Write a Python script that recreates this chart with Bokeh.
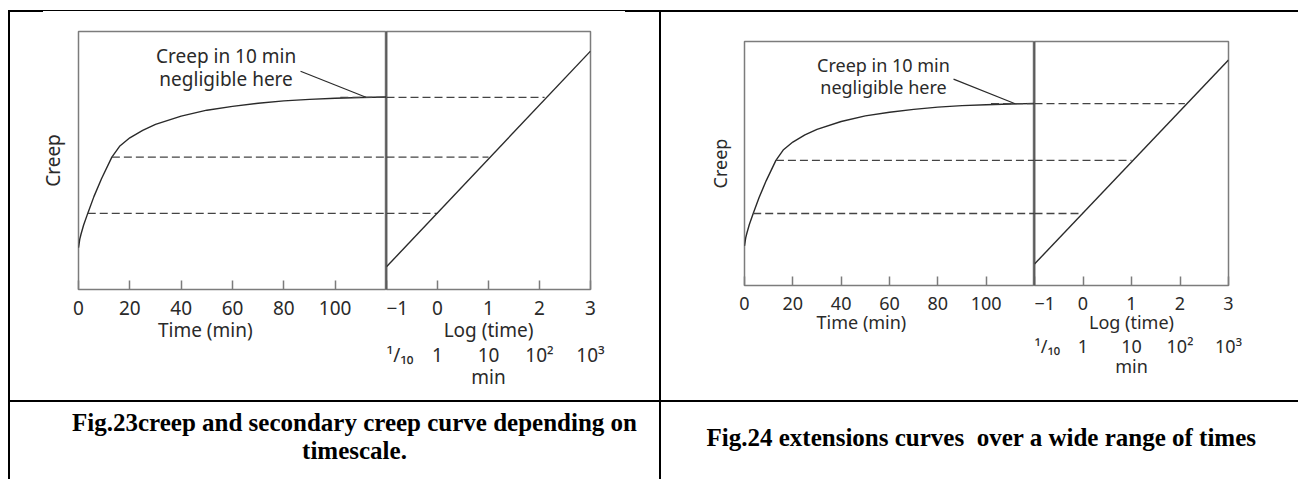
from bokeh.plotting import figure
from bokeh.models import Range1d, FixedTicker, LinearAxis, Spacer, Span
from bokeh.layouts import row, column
from bokeh.core.properties import value
from bokeh.embed import file_html
from bokeh.resources import INLINE

# ---------------- data ----------------
time_min = [0, 0.5, 1, 2, 3.6, 6, 9, 13, 16, 20, 25, 30, 40, 50, 60, 70, 80, 90, 100, 110, 120]
creep_curve = [0.162, 0.195, 0.215, 0.25, 0.295, 0.36, 0.43, 0.513, 0.555, 0.588, 0.617, 0.64,
               0.672, 0.695, 0.71, 0.722, 0.731, 0.737, 0.741, 0.744, 0.746]
log_time = [-1, 3]
creep_log = [0.088, 0.924]
dash_levels = [0.295, 0.513, 0.745]
dash_start_time = [3.6, 13, 102]
dash_end_log = [0.0, 1.0, 2.1]
time_ticks = [0, 20, 40, 60, 80, 100]
log_ticks = [-1, 0, 1, 2, 3]
log_tick_labels = ["\u22121", "0", "1", "2", "3"]
minute_labels = ["\u00b9/\u2081\u2080", "1", "10", "10\u00b2", "10\u00b3"]
note_lines = ["Creep in 10 min", "negligible here"]
note_time = [57.5, 57.5]
note_creep = [0.905, 0.815]
leader_time = [86.5, 112.0]
leader_creep = [0.846, 0.745]
caption1 = ["Fig.23creep and secondary creep curve depending on", "timescale."]
caption2 = ["Fig.24 extensions curves \u00a0over a wide range of times"]

FONT = "Noto Sans"
FRAME = "#7c7c7c"
INK = "#2a2a2a"


def style_axis(ax, fs, tick_standoff, label_standoff):
    ax.minor_tick_line_color = None
    ax.axis_line_color = None
    ax.major_tick_in = 9
    ax.major_tick_out = 0
    ax.major_tick_line_color = FRAME
    ax.major_tick_line_width = 1.5
    ax.major_label_text_font = FONT
    ax.major_label_text_font_size = f"{fs}px"
    ax.major_label_text_color = INK
    ax.major_label_standoff = tick_standoff
    ax.axis_label_text_font = FONT
    ax.axis_label_text_font_size = f"{fs}px"
    ax.axis_label_text_font_style = "normal"
    ax.axis_label_text_color = INK
    ax.axis_label_standoff = label_standoff


def chart(fs, lb, tw, lw, rb, tb, fh, bb, creep_standoff, tick_standoff, label_standoff,
          min_standoff, min_label_standoff, pad):
    yr = Range1d(0, 1)
    h = tb + fh + bb
    common = dict(output_backend="svg", toolbar_location=None, y_range=yr,
                  x_axis_location=None, y_axis_location=None,
                  background_fill_color="white", border_fill_color="white",
                  outline_line_color=FRAME, outline_line_width=1.5,
                  min_border_top=tb, min_border_bottom=bb)
    L = figure(width=lb + tw, height=h, x_range=Range1d(0, 120),
               min_border_left=lb, min_border_right=0, **common)
    R = figure(width=lw + rb, height=h, x_range=Range1d(-1, 3),
               min_border_left=0, min_border_right=rb, **common)
    for f in (L, R):
        f.grid.visible = False

    # axes
    yax = LinearAxis(ticker=FixedTicker(ticks=[]), axis_label="Creep")
    style_axis(yax, fs, 0, creep_standoff)
    yax.major_tick_line_color = None
    L.add_layout(yax, "left")

    # label centred under the 0-100 ticks: trailing no-break spaces shift it left
    tax = LinearAxis(ticker=FixedTicker(ticks=time_ticks), axis_label="Time (min)" + "\u00a0" * pad)
    style_axis(tax, fs, tick_standoff, label_standoff)
    L.add_layout(tax, "below")

    lax = LinearAxis(ticker=FixedTicker(ticks=log_ticks), axis_label="Log (time)",
                     major_label_overrides=dict(zip(log_ticks, log_tick_labels)))
    style_axis(lax, fs, tick_standoff, label_standoff)
    R.add_layout(lax, "below")

    max_ = LinearAxis(ticker=FixedTicker(ticks=log_ticks), axis_label="min",
                      major_label_overrides=dict(zip(log_ticks, minute_labels)))
    style_axis(max_, fs, min_standoff, min_label_standoff)
    max_.major_tick_line_color = None
    R.add_layout(max_, "below")

    # marks
    L.line(time_min, creep_curve, line_color=INK, line_width=1.4)
    L.segment(x0=dash_start_time, y0=dash_levels, x1=[120] * len(dash_levels), y1=dash_levels,
              line_color="#444444", line_width=1.3, line_dash="8 4")
    R.segment(x0=[-1] * len(dash_levels), y0=dash_levels, x1=dash_end_log, y1=dash_levels,
              line_color="#444444", line_width=1.3, line_dash="8 4")
    R.line(log_time, creep_log, line_color=INK, line_width=1.4)
    L.line(leader_time, leader_creep, line_color=INK, line_width=1.2)
    L.text(x=note_time, y=note_creep, text=note_lines, text_font=value(FONT),
           text_font_size=f"{fs}px", text_align="center", text_baseline="middle", text_color=INK)
    L.add_layout(Span(location=120, dimension="height", line_color="#3a3a3a", line_width=1.5))
    R.add_layout(Span(location=-1, dimension="height", line_color="#3a3a3a", line_width=1.5))
    return row(L, R, spacing=0)


def caption_fig(w, h, xs, ys, lines, size):
    c = figure(width=w, height=h, x_range=Range1d(0, w), y_range=Range1d(h, 0),
               output_backend="svg", toolbar_location=None, x_axis_location=None,
               y_axis_location=None, min_border=0, outline_line_color=None)
    c.grid.visible = False
    c.text(x=xs, y=ys, text=lines, text_font=value("Liberation Serif"), text_font_style="bold",
           text_font_size=size, text_align="center", text_baseline="middle", text_color="black")
    return c


def bar(w, h, color="black"):
    return Spacer(width=w, height=h, margin=0, styles={"background-color": color})


def gap(w, h):
    return Spacer(width=w, height=h, margin=0)


chart1 = chart(19, 68, 308, 204, 69, 19, 258, 111, 13, 11, -1, -4, -7, 11)
chart2 = chart(18, 83, 290, 194, 70, 29, 244, 115, 13, 11, -3, -3, -7, 12)

cap1 = caption_fig(649, 77, [344, 344], [20, 48], caption1, "25px")
cap2 = caption_fig(637, 77, [320], [35], caption2, "25px")

page = column(
    gap(1298, 10),
    row(gap(8, 2), bar(35, 2), bar(582, 1), bar(673, 2), spacing=0),
    row(gap(8, 388), bar(2, 388), chart1, bar(2, 388), chart2, spacing=0),
    row(gap(8, 2), bar(1290, 2), spacing=0),
    row(gap(8, 77), bar(2, 77), cap1, bar(2, 77), cap2, spacing=0),
    spacing=0,
)

open("out.html", "w").write(file_html(page, INLINE, title="creep curves"))
